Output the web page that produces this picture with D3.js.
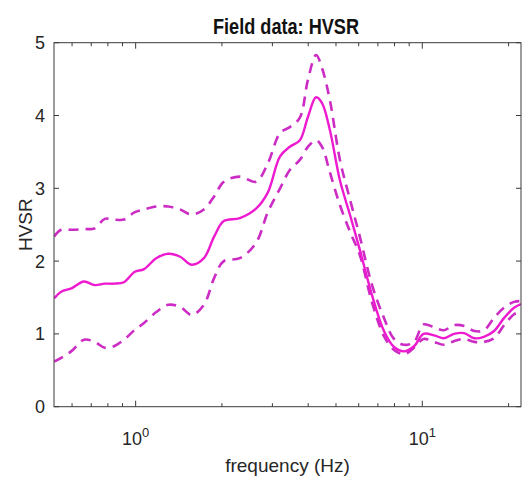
<!DOCTYPE html>
<html>
<head>
<meta charset="utf-8">
<script src="https://cdn.jsdelivr.net/npm/d3@7"></script>
<style>
  html, body { margin: 0; padding: 0; background: #fff; }
  svg { display: block; }
  text { font-family: "Liberation Sans", Arial, Helvetica, sans-serif; fill: #262626; }
</style>
</head>
<body>
<div id="chart"></div>
<script>
// Frequency samples (Hz) shared by the three curves
const freq = [0.52, 0.55, 0.60, 0.66, 0.72, 0.78, 0.84, 0.91, 0.99, 1.07,
  1.18, 1.30, 1.43, 1.57, 1.73, 1.88, 2.03, 2.31, 2.63, 2.89,
  3.19, 3.45, 3.74, 3.99, 4.26, 4.47, 4.76, 5.16, 5.60, 6.06,
  6.68, 7.35, 7.97, 8.64, 9.36, 10.1, 11.0, 11.9, 12.9, 14.0,
  15.2, 16.4, 17.8, 19.3, 20.9, 22.1];

// Mean H/V spectral ratio
const hvsrMean = [1.49, 1.58, 1.63, 1.72, 1.67, 1.69, 1.69, 1.71, 1.85, 1.89,
  2.04, 2.10, 2.06, 1.95, 2.04, 2.34, 2.55, 2.59, 2.72, 2.94,
  3.44, 3.57, 3.66, 3.98, 4.25, 4.17, 3.80, 3.11, 2.63, 2.15,
  1.53, 1.04, 0.82, 0.76, 0.83, 1.00, 0.98, 0.94, 1.00, 1.01,
  0.94, 0.96, 1.04, 1.22, 1.36, 1.41];

// Mean + one standard deviation
const hvsrUpper = [2.34, 2.43, 2.43, 2.44, 2.45, 2.58, 2.57, 2.57, 2.67, 2.71,
  2.75, 2.75, 2.71, 2.64, 2.71, 2.89, 3.09, 3.16, 3.09, 3.34,
  3.76, 3.84, 3.97, 4.49, 4.83, 4.65, 4.21, 3.39, 2.84, 2.33,
  1.67, 1.22, 0.93, 0.85, 0.89, 1.13, 1.09, 1.05, 1.12, 1.11,
  1.04, 1.05, 1.22, 1.36, 1.44, 1.45];

// Mean - one standard deviation
const hvsrLower = [0.62, 0.67, 0.77, 0.92, 0.89, 0.81, 0.83, 0.92, 1.05, 1.15,
  1.30, 1.40, 1.37, 1.26, 1.40, 1.77, 2.00, 2.04, 2.25, 2.67,
  3.00, 3.25, 3.39, 3.57, 3.66, 3.57, 3.22, 2.77, 2.40, 2.08,
  1.43, 0.97, 0.78, 0.72, 0.81, 0.93, 0.89, 0.85, 0.90, 0.93,
  0.89, 0.89, 0.94, 1.12, 1.27, 1.31];

const yTicks = [0, 1, 2, 3, 4, 5];
const xMajor = [1, 10];
const xMinor = [0.6, 0.7, 0.8, 0.9, 2, 3, 4, 5, 6, 7, 8, 9, 20];
const xDomain = [0.519, 22.1];
const yDomain = [0, 5];

const W = 524, H = 485;
const mL = 54, mR = 521, mT = 42.7, mB = 406.7;

const svg = d3.select("#chart").append("svg")
  .attr("width", W).attr("height", H);

const x = d3.scaleLog().domain(xDomain).range([mL, mR]);
const y = d3.scaleLinear().domain(yDomain).range([mB, mT]);

svg.append("rect").attr("x", 0).attr("y", 0).attr("width", W).attr("height", H).attr("fill", "#fff");

svg.append("clipPath").attr("id", "plotClip")
  .append("rect").attr("x", mL).attr("y", mT)
  .attr("width", mR - mL).attr("height", mB - mT);

const axisColor = "#3a3a3a";
const ticksG = svg.append("g").attr("stroke", axisColor).attr("stroke-width", 1);

// y ticks, inward on both sides
yTicks.forEach(v => {
  const yy = y(v);
  ticksG.append("line").attr("x1", mL).attr("x2", mL + 5).attr("y1", yy).attr("y2", yy);
  ticksG.append("line").attr("x1", mR).attr("x2", mR - 5).attr("y1", yy).attr("y2", yy);
});
// x ticks, inward on bottom and top
xMajor.forEach(v => {
  const xx = x(v);
  ticksG.append("line").attr("x1", xx).attr("x2", xx).attr("y1", mB).attr("y2", mB - 6);
  ticksG.append("line").attr("x1", xx).attr("x2", xx).attr("y1", mT).attr("y2", mT + 6);
});
xMinor.forEach(v => {
  const xx = x(v);
  ticksG.append("line").attr("x1", xx).attr("x2", xx).attr("y1", mB).attr("y2", mB - 3.5);
  ticksG.append("line").attr("x1", xx).attr("x2", xx).attr("y1", mT).attr("y2", mT + 3.5);
});

// Curves
const plot = svg.append("g").attr("clip-path", "url(#plotClip)");
const line = series => d3.line()
  .x((d, i) => x(freq[i]))
  .y(d => y(d))
  .curve(d3.curveCatmullRom.alpha(0.5))(series);

plot.append("path").attr("d", line(hvsrUpper))
  .attr("fill", "none").attr("stroke", "#cc2cc4").attr("stroke-width", 2.6)
  .attr("stroke-dasharray", "10,7");
plot.append("path").attr("d", line(hvsrLower))
  .attr("fill", "none").attr("stroke", "#cc2cc4").attr("stroke-width", 2.6)
  .attr("stroke-dasharray", "10,7");
plot.append("path").attr("d", line(hvsrMean))
  .attr("fill", "none").attr("stroke", "#ee1ad0").attr("stroke-width", 2.4);

// Axes box
svg.append("rect").attr("x", mL).attr("y", mT)
  .attr("width", mR - mL).attr("height", mB - mT)
  .attr("fill", "none").attr("stroke", axisColor).attr("stroke-width", 1);

// y tick labels
svg.append("g").selectAll("text").data(yTicks).join("text")
  .attr("x", mL - 9).attr("y", d => y(d)).attr("dy", "0.36em")
  .attr("text-anchor", "end").attr("font-size", 18)
  .text(d => d);

// x tick labels: powers of ten
xMajor.forEach(v => {
  const t = svg.append("text").attr("x", x(v)).attr("y", 445)
    .attr("text-anchor", "middle").attr("font-size", 18);
  t.append("tspan").text("10");
  t.append("tspan").attr("dy", -8).attr("font-size", 13).text(Math.round(Math.log10(v)));
});

// Axis titles
svg.append("text").attr("x", (mL + mR) / 2).attr("y", 472)
  .attr("text-anchor", "middle").attr("font-size", 19)
  .text("frequency (Hz)");

svg.append("text")
  .attr("transform", `translate(32,${(mT + mB) / 2}) rotate(-90)`)
  .attr("text-anchor", "middle").attr("font-size", 19)
  .text("HVSR");

// Title
svg.append("text").attr("x", 286).attr("y", 34)
  .attr("text-anchor", "middle").attr("font-size", 22).attr("font-weight", "bold")
  .attr("textLength", 146).attr("lengthAdjust", "spacingAndGlyphs")
  .style("fill", "#111")
  .text("Field data: HVSR");
</script>
</body>
</html>
